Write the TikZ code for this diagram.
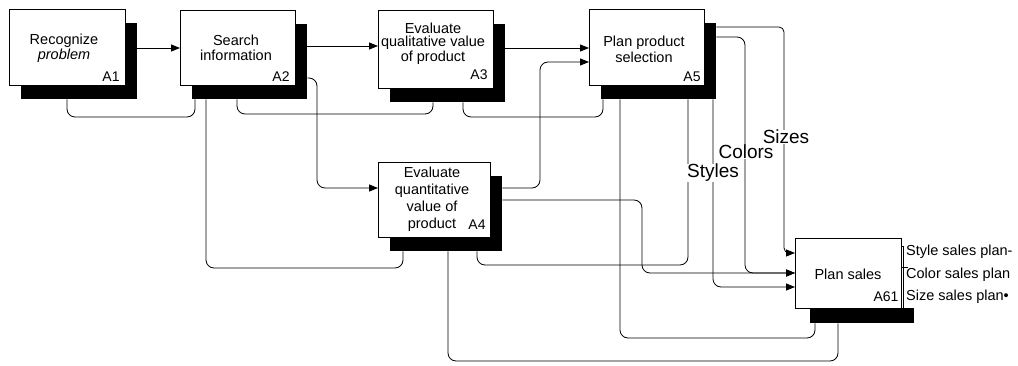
\documentclass[tikz,border=0pt]{standalone}
\usepackage{fontspec}
\setmainfont{Liberation Sans}
\usetikzlibrary{arrows.meta}
\newcommand\mkbox[5]{%
  \node[shbox, minimum width=#4pt, minimum height=#5pt] (#1s) at (#2+12,#3+14) {};
  \node[box, minimum width=#4pt, minimum height=#5pt] (#1) at (#2,#3) {};
}
\begin{document}
\begin{tikzpicture}[x=1pt,y=-1pt,
  box/.style={draw=black, line width=0.6pt, fill=white, anchor=north west, inner sep=0pt},
  shbox/.style={fill=black, anchor=north west, inner sep=0pt},
  lbl/.style={font=\fontsize{14.5}{15}\selectfont, align=center, inner sep=0pt},
  idl/.style={font=\fontsize{14}{15}\selectfont, inner sep=0pt},
  ln/.style={line width=0.8pt, rounded corners=8pt},
  arr/.style={ln, -{Triangle[length=9pt,width=7pt]}},
  big/.style={font=\fontsize{19}{20}\selectfont, fill=white, inner sep=0pt},
  outl/.style={font=\fontsize{14.5}{15}\selectfont, anchor=west, inner sep=0pt, fill=white}
]
\useasboundingbox[fill=white] (0,0) rectangle (1018,366);

% boxes
\mkbox{a1}{9}{9}{116}{76}
\mkbox{a2}{180}{10}{115}{75}
\mkbox{a3}{378}{10}{115}{78}
\mkbox{a5}{589}{9}{115}{76}
\mkbox{a4}{378}{162}{112}{75}
\node[shbox, minimum width=104pt, minimum height=15pt] (a61s) at (810,308) {};
\node[box, minimum width=106pt, minimum height=70pt] (a61) at (795,238) {};

% box texts
\node[lbl] (t1) at (64,48) {Recognize\\\textit{problem}};
\node[lbl] (t2) at (236,48) {Search\\information};
\node[lbl, font=\fontsize{14.5}{13}\selectfont] (t3) at (433,44) {Evaluate\\qualitative value\\of product};
\node[lbl, font=\fontsize{14.5}{16}\selectfont] (t5) at (644,49) {Plan product\\selection};
\node[lbl, font=\fontsize{14.5}{17}\selectfont] (t4) at (432,199) {Evaluate\\quantitative\\value of\\product};
\node[lbl] (t61) at (848,274) {Plan sales};

\node[idl] (i1) at (111,77) {A1};
\node[idl] (i2) at (281,77) {A2};
\node[idl] (i3) at (479,75) {A3};
\node[idl] (i5) at (692,77) {A5};
\node[idl] (i4) at (477,225) {A4};
\node[idl] (i61) at (886,297) {A61};

% connectors
\draw[arr] (a1s.east|-0,48) -- (a2.west|-0,48);
\draw[arr] (a2s.east|-0,46) -- (a3.west|-0,46);
\draw[arr] (a3s.east|-0,48) -- (a5.west|-0,48);
\draw[arr] (a4s.east|-0,188) -| (540,62) -- (a5.west|-0,62);
\draw[arr] (a2s.east|-0,78) -| (317,188) -- (a4.west|-0,188);

\draw[ln] (a1s.south-|67,0) |- (195,117) -- (a2s.south-|195,0);
\draw[ln] (a2s.south-|237,0) |- (433,114) -- (a3s.south-|433,0);
\draw[ln] (a3s.south-|463,0) |- (603,117) -- (a5s.south-|603,0);
\draw[ln] (a2s.south-|206,0) |- (403,268) -- (a4s.south-|403,0);
\draw[ln] (a4s.south-|448,0) |- (838,361) -- (a61s.south-|838,0);
\draw[ln] (a4s.south-|477,0) |- (688,265) -- (a5s.south-|688,0);
\draw[ln] (a5s.south-|620,0) |- (815,338) -- (a61s.south-|815,0);

\draw[arr] (a4s.east|-0,200) -| (642,273) -- (a61.west|-0,273);
\draw[arr, rounded corners=5pt] (a5s.east|-0,27) -| (784,253) -- (a61.west|-0,253);
\draw[arr] (a5s.east|-0,37) -| (745,273) -- (a61.west|-0,273);
\draw[arr] (a5s.south-|713,0) |- (a61.west|-0,287);

% flow labels
\node[big] (lst) at (713,173) {Styles};
\node[big] (lcl) at (746,152) {Colors};
\node[big] (lsz) at (786,137) {Sizes};

% outputs
\draw[line width=0.5pt] (a61.east|-0,246) -- (903,246) -- (903,308);
\draw[line width=0.5pt] (a61.east|-0,267) -- (908,267);
\node[outl] (o1) at (906,252) {Style sales plan-};
\node[outl] (o2) at (906,275) {Color sales plan};
\node[outl] (o3) at (906,297) {Size sales plan•};
\end{tikzpicture}
\end{document}
